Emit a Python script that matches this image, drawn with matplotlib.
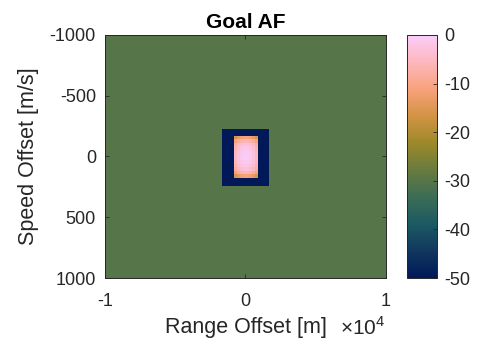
import numpy as np
import matplotlib
matplotlib.use("Agg")
import matplotlib.pyplot as plt
from matplotlib.colors import LinearSegmentedColormap
from matplotlib.ticker import FuncFormatter

plt.rcParams['font.family'] = ['Liberation Sans', 'DejaVu Sans']
plt.rcParams['axes.unicode_minus'] = False
plt.rcParams['mathtext.fontset'] = 'custom'
plt.rcParams['mathtext.rm'] = 'Liberation Sans'

# ambiguity function levels (dB)
bg_level = -30.0
guard_level = -50.0
guard_range = (-1700.0, 1650.0)   # m
guard_speed = (-230.0, 240.0)     # m/s
main_range = (-820.0, 880.0)
main_speed = (-170.0, 177.0)
range_profile_db = [-5.0, -2.5, -1.0, -0.2, -0.2, -1.0, -2.5, -5.0]
speed_profile_db = [-11.0, -6.0, -3.0, -1.5, -0.6, -0.1,
                    -0.1, -0.6, -1.5, -3.0, -6.0, -11.0]

clim = (-50, 0)
xticks = [-10000, 0, 10000]
yticks = [-1000, -500, 0, 500, 1000]
cbar_ticks = [-50, -40, -30, -20, -10, 0]

# batlow-like colour map
batlow = LinearSegmentedColormap.from_list("batlow", [
    "#011959", "#10385F", "#1C5A62", "#3C6D56", "#687B3E",
    "#9D892B", "#D29343", "#F8A17B", "#FDB7BC", "#FACCFA"])

# cell edges: background | guard | main lobe cells | guard | background
x_edges = np.concatenate(([-10000, guard_range[0]],
                          np.linspace(main_range[0], main_range[1], len(range_profile_db) + 1),
                          [guard_range[1], 10000]))
y_edges = np.concatenate(([-1000, guard_speed[0]],
                          np.linspace(main_speed[0], main_speed[1], len(speed_profile_db) + 1),
                          [guard_speed[1], 1000]))

Z = np.full((len(y_edges) - 1, len(x_edges) - 1), bg_level)
Z[1:-1, 1:-1] = guard_level
Z[2:-2, 2:-2] = np.add.outer(speed_profile_db, range_profile_db)

fig = plt.figure(figsize=(4.79, 3.43), dpi=100)
ax = fig.add_axes([0.2192, 0.1895, 0.5866, 0.7085])
cax = fig.add_axes([0.8497, 0.1895, 0.0626, 0.7085])

mesh = ax.pcolormesh(x_edges, y_edges, Z, cmap=batlow, vmin=clim[0], vmax=clim[1],
                     shading='flat', antialiased=False, edgecolors='none')
ax.set_xlim(-10000, 10000)
ax.set_ylim(1000, -1000)
ax.set_xticks(xticks)
ax.set_yticks(yticks)
ax.xaxis.set_major_formatter(FuncFormatter(lambda v, p: f"{v / 1e4:g}"))
ax.tick_params(direction='in', length=3, top=True, right=True, labelsize=13,
               color='#262626', labelcolor='#262626', width=0.6)
ax.tick_params(axis='x', pad=11)
ax.tick_params(axis='y', pad=6.5)
for s in ax.spines.values():
    s.set_color('#262626')
    s.set_linewidth(0.7)

ax.set_title("Goal AF", fontsize=15, fontweight='bold', pad=5)
ax.set_xlabel("Range Offset [m]", fontsize=15.5, color='#262626', labelpad=5)
ax.set_ylabel("Speed Offset [m/s]", fontsize=15.5, color='#262626', labelpad=8)
ax.text(0.9964, -0.232, r"$\times10^4$", transform=ax.transAxes, ha='right', va='baseline',
        fontsize=15, color='#262626')

cbar = fig.colorbar(mesh, cax=cax, ticks=cbar_ticks)
cbar.ax.tick_params(direction='in', length=3, labelsize=13, color='#262626',
                    labelcolor='#262626', width=0.6, pad=5)
cbar.outline.set_edgecolor('#262626')
cbar.outline.set_linewidth(0.7)

fig.savefig("out.png", dpi=100)
